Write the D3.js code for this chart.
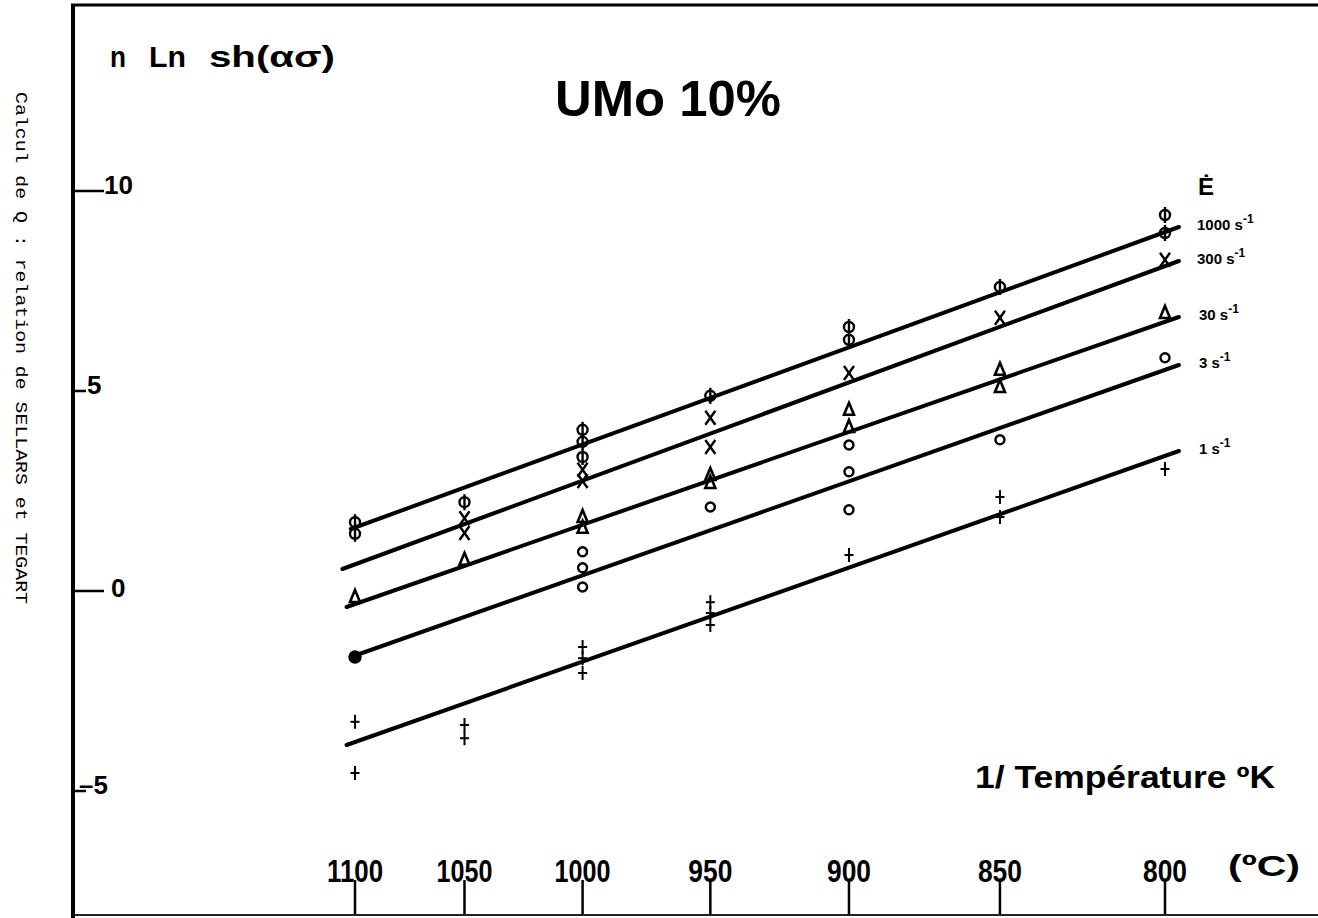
<!DOCTYPE html>
<html><head><meta charset="utf-8">
<script src="https://cdn.jsdelivr.net/npm/d3@7"></script>
<style>html,body{margin:0;padding:0;background:#fff;}svg{display:block;}</style>
</head><body>
<svg id="chart" width="1318" height="918"></svg>
<script>
// ---- data ----
const tempTicks = [1100, 1050, 1000, 950, 900, 850, 800];   // °C
const yTicks = [10, 5, 0, -5];
const rateLabels = ["1000", "300", "30", "3", "1"];        // s^-1
const markerTypes = ["phi", "cross", "tri", "circ", "plus"];

const pts1000 = [[1100,1.72],[1100,1.43],[1050,2.22],[1000,4.03],[1000,3.73],[1000,3.35],[950,4.88],[900,6.6],[900,6.28],[850,7.6],[800,9.4],[800,8.95]];
const pts300  = [[1050,1.82],[1050,1.45],[1000,3.03],[1000,2.75],[950,4.33],[950,3.6],[900,5.45],[850,6.83],[800,8.28]];
const pts30   = [[1100,-0.15],[1050,0.78],[1000,1.85],[1000,1.58],[950,2.9],[950,2.7],[900,4.53],[900,4.1],[850,5.53],[850,5.1],[800,6.95]];
const pts3    = [[1100,-1.65],[1000,0.98],[1000,0.58],[1000,0.1],[950,2.1],[900,3.65],[900,2.98],[900,2.03],[850,3.78],[800,5.83]];
const pts1    = [[1100,-3.27],[1100,-4.55],[1050,-3.35],[1050,-3.68],[1000,-1.4],[1000,-1.68],[1000,-2.05],[950,-0.28],[950,-0.55],[950,-0.85],[900,0.9],[850,2.35],[850,1.85],[800,3.05]];

const fit1000 = [[1102,1.55],[796,9.1]];
const fit300  = [[1106,0.55],[796,8.25]];
const fit30   = [[1104,-0.4],[796,6.85]];
const fit3    = [[1102,-1.65],[796,5.65]];
const fit1    = [[1104,-3.85],[796,3.5]];

const seriesPts = [pts1000, pts300, pts30, pts3, pts1];
const seriesFit = [fit1000, fit300, fit30, fit3, fit1];

// ---- scales ----
const inv = T => 1000 / (T + 273.15);
const x = d3.scaleLinear().domain([inv(1100), inv(800)]).range([355, 1165]);
const y = d3.scaleLinear().domain([-5, 10]).range([791, 191]);
const px = T => x(inv(T));

const svg = d3.select("#chart");
const bold = "'Liberation Sans', Arial, sans-serif";

// frame
svg.append("line").attr("x1",73).attr("x2",73).attr("y1",4).attr("y2",918).attr("stroke","#000").attr("stroke-width",4);
svg.append("line").attr("x1",71).attr("x2",1318).attr("y1",5).attr("y2",5).attr("stroke","#000").attr("stroke-width",3);
svg.append("line").attr("x1",73).attr("x2",1318).attr("y1",915).attr("y2",915).attr("stroke","#222").attr("stroke-width",2);

// side caption
svg.append("text").attr("transform","translate(16,92) rotate(90)")
  .attr("font-family","'Liberation Mono', 'DejaVu Sans Mono', monospace").attr("font-size",17)
  .attr("textLength",512).attr("lengthAdjust","spacingAndGlyphs")
  .text("Calcul de Q : relation de SELLARS et TEGART");

// y ticks
const yt = svg.append("g");
yTicks.forEach(v => {
  const long = (v === 10 || v === 0);
  yt.append("line").attr("x1",75).attr("x2", long ? 104 : 86)
    .attr("y1", y(v)).attr("y2", y(v)).attr("stroke","#000").attr("stroke-width",2.5);
  let lx = v === 10 ? 104 : v === 5 ? 87 : v === 0 ? 111 : 79;
  yt.append("text").attr("x", lx).attr("y", y(v) + (v === 0 ? 6 : 3))
    .attr("font-family", bold).attr("font-weight","bold").attr("font-size",26)
    .text(v < 0 ? "\u2013" + Math.abs(v) : v);
});

// y label (three words, wide spacing) and title
const yl = [["n",110,16],["Ln",149,37],["sh(\u03b1\u03c3)",209,126]];
yl.forEach(w => {
  svg.append("text").attr("x",w[1]).attr("y",67).attr("font-family",bold).attr("font-weight","bold")
    .attr("font-size",30).attr("textLength",w[2]).attr("lengthAdjust","spacingAndGlyphs").text(w[0]);
});
svg.append("text").attr("x",668).attr("y",116).attr("text-anchor","middle").attr("font-family",bold)
  .attr("font-weight","bold").attr("font-size",50).attr("textLength",226).attr("lengthAdjust","spacingAndGlyphs").text("UMo 10%");

// x ticks
const xt = svg.append("g");
tempTicks.forEach(T => {
  xt.append("line").attr("x1",px(T)).attr("x2",px(T)).attr("y1",880).attr("y2",914)
    .attr("stroke","#000").attr("stroke-width",2.5);
  const s = String(T);
  xt.append("text").attr("x",px(T)).attr("y",882).attr("text-anchor","middle")
    .attr("font-family",bold).attr("font-weight","bold").attr("font-size",31)
    .attr("textLength", s.length === 4 ? 56 : 44).attr("lengthAdjust","spacingAndGlyphs").text(s);
});
svg.append("text").attr("x",1228).attr("y",876).attr("font-family",bold).attr("font-weight","bold")
  .attr("font-size",30).attr("textLength",72).attr("lengthAdjust","spacingAndGlyphs").text("(\u00baC)");
svg.append("text").attr("x",975).attr("y",788).attr("font-family",bold).attr("font-weight","bold")
  .attr("font-size",31).attr("textLength",300).attr("lengthAdjust","spacingAndGlyphs").text("1/ Temp\u00e9rature \u00baK");

// fit lines
const line = d3.line().x(d => px(d[0])).y(d => y(d[1]));
seriesFit.forEach(f => {
  svg.append("path").attr("d", line(f)).attr("fill","none").attr("stroke","#000")
    .attr("stroke-width",4).attr("stroke-linecap","round");
});

// markers
function marker(g, type, cx, cy, filled) {
  const s = g.append("g").attr("transform",`translate(${cx},${cy})`)
    .attr("stroke","#000").attr("stroke-width",2.4).attr("fill","none");
  if (type === "phi") {
    s.append("circle").attr("r",5);
    s.append("line").attr("y1",-8).attr("y2",8);
  } else if (type === "cross") {
    s.append("line").attr("x1",-5).attr("y1",-7).attr("x2",5).attr("y2",7);
    s.append("line").attr("x1",5).attr("y1",-7).attr("x2",-5).attr("y2",7);
  } else if (type === "tri") {
    s.append("path").attr("d","M0,-7L5,5L-5,5Z").attr("stroke-width",2.6);
  } else if (type === "circ") {
    s.append("circle").attr("r", filled ? 5.5 : 4.5).attr("fill", filled ? "#000" : "none");
  } else if (type === "plus") {
    s.append("line").attr("y1",-7).attr("y2",7).attr("stroke-width",2);
    s.append("line").attr("x1",-4.5).attr("x2",4.5).attr("stroke-width",2);
  }
}
seriesPts.forEach((pts, i) => {
  const g = svg.append("g");
  pts.forEach(d => marker(g, markerTypes[i], px(d[0]), y(d[1]), markerTypes[i] === "circ" && d[0] === 1100));
});

// legend labels
svg.append("text").attr("x",1198).attr("y",195).attr("font-family",bold).attr("font-weight","bold")
  .attr("font-size",24).text("\u0116");
seriesFit.forEach((f, i) => {
  const end = f[f.length - 1];
  const t = svg.append("text").attr("x", i === 0 || i === 1 ? 1197 : 1199).attr("y", y(end[1]) + 3)
    .attr("font-family",bold).attr("font-weight","bold").attr("font-size",15);
  t.append("tspan").text(rateLabels[i] + " s");
  t.append("tspan").attr("dy",-7).attr("font-size",12).text("-1");
});
</script>
</body></html>
